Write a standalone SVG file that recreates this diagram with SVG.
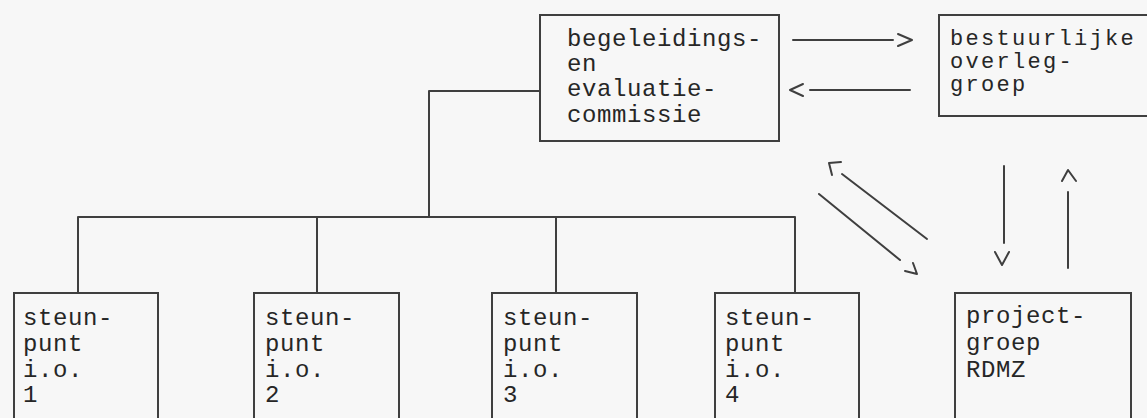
<svg xmlns="http://www.w3.org/2000/svg" width="1147" height="418" viewBox="0 0 1147 418">
<style>
.box{fill:none;stroke:#3f3f3f;stroke-width:2}
.ln{fill:none;stroke:#3f3f3f;stroke-width:2;stroke-linecap:round;stroke-linejoin:round}
.t{font-family:"Liberation Mono","DejaVu Sans Mono",monospace;font-size:24px;letter-spacing:0.6px;fill:#262626}
.s{font-size:22px;letter-spacing:2.3px}
</style>
<rect width="1147" height="418" fill="#f7f7f7"/>
<g id="commissie">
<rect class="box" x="540" y="15" width="239" height="126"/>
<text class="t"><tspan x="567" y="46">begeleidings-</tspan><tspan x="567" y="71">en</tspan><tspan x="567" y="96">evaluatie-</tspan><tspan x="567" y="122">commissie</tspan></text>
</g>
<g id="bestuurlijke">
<rect class="box" x="939" y="15" width="210" height="101"/>
<text class="t s"><tspan x="950" y="45">bestuurlijke</tspan><tspan x="950" y="68">overleg-</tspan><tspan x="950" y="91">groep</tspan></text>
</g>
<g id="steunpunt1">
<rect class="box" x="14" y="293" width="144" height="130"/>
<text class="t"><tspan x="23" y="325">steun-</tspan><tspan x="23" y="351">punt</tspan><tspan x="23" y="377">i.o.</tspan><tspan x="23" y="402">1</tspan></text>
</g>
<g id="steunpunt2">
<rect class="box" x="254" y="293" width="145" height="130"/>
<text class="t"><tspan x="265" y="325">steun-</tspan><tspan x="265" y="351">punt</tspan><tspan x="265" y="377">i.o.</tspan><tspan x="265" y="402">2</tspan></text>
</g>
<g id="steunpunt3">
<rect class="box" x="492" y="293" width="145" height="130"/>
<text class="t"><tspan x="503" y="325">steun-</tspan><tspan x="503" y="351">punt</tspan><tspan x="503" y="377">i.o.</tspan><tspan x="503" y="402">3</tspan></text>
</g>
<g id="steunpunt4">
<rect class="box" x="715" y="293" width="144" height="130"/>
<text class="t"><tspan x="725" y="325">steun-</tspan><tspan x="725" y="351">punt</tspan><tspan x="725" y="377">i.o.</tspan><tspan x="725" y="402">4</tspan></text>
</g>
<g id="projectgroep">
<rect class="box" x="955" y="293" width="176" height="130"/>
<text class="t"><tspan x="966" y="323">project-</tspan><tspan x="966" y="350">groep</tspan><tspan x="966" y="377">RDMZ</tspan></text>
</g>
<g id="connectors">
<path class="ln" d="M540 91 H429 V217 M78 217 H795 M78 217 V293 M317 217 V293 M556 217 V293 M795 217 V293"/>
<path class="ln" d="M793 40 H893 M898 34 L912 40 L898 46"/>
<path class="ln" d="M810 90 H910 M803 84 L790 90 L803 96"/>
<path class="ln" d="M842 174 L927 239 M841 162 L829 163 L832 175"/>
<path class="ln" d="M819 194 L900 260 M905 271 L917 274 L913 263"/>
<path class="ln" d="M1004 166 V243 M995 252 L1002 265 L1009 252"/>
<path class="ln" d="M1068 192 V268 M1062 181 L1068 170 L1076 181"/>
</g>
</svg>
